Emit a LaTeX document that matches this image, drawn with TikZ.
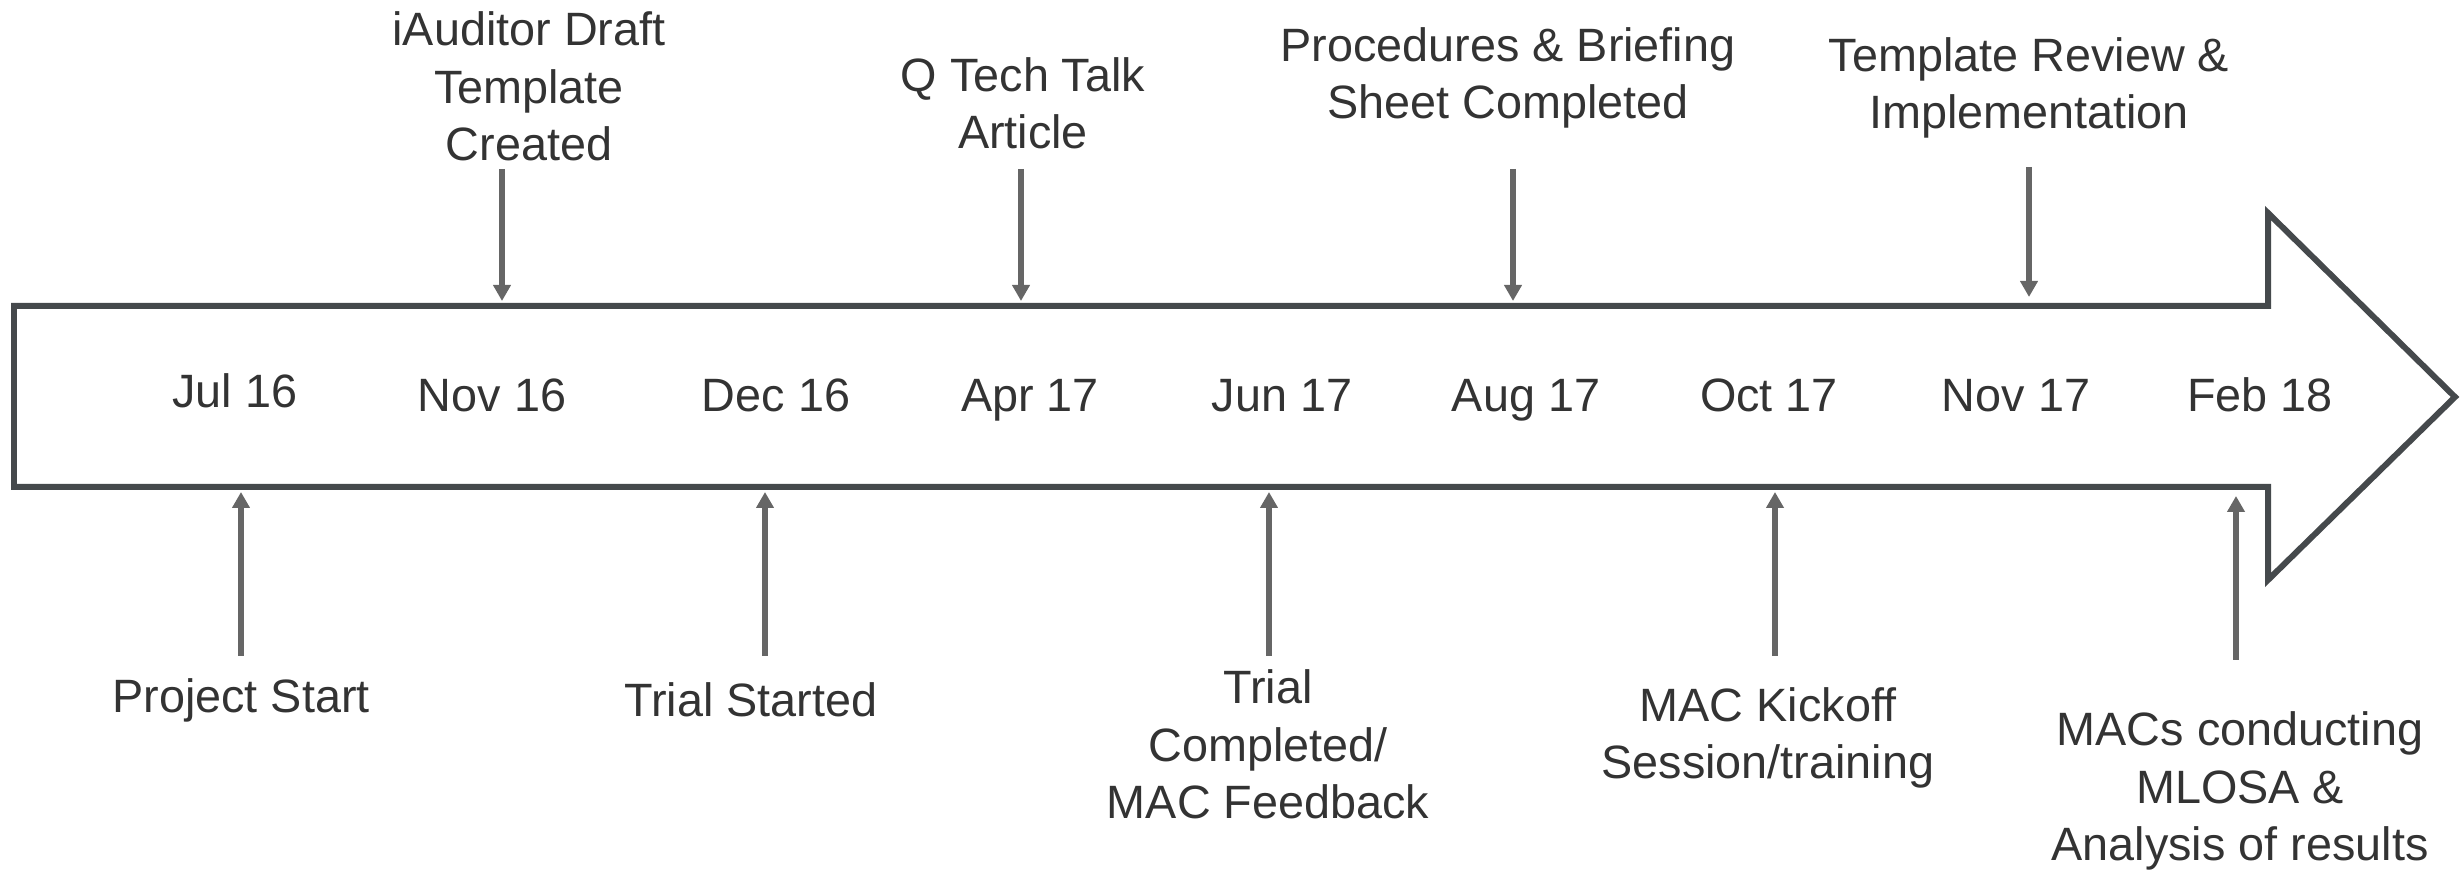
\documentclass[tikz,border=0pt]{standalone}
\usepackage{fontspec}
\setmainfont{Liberation Sans}
\usetikzlibrary{arrows.meta}
\definecolor{outl}{HTML}{45494C}
\definecolor{arr}{HTML}{666666}
\definecolor{txt}{HTML}{333333}
\begin{document}
\begin{tikzpicture}[x=0.01cm,y=-0.01cm,
  lbl/.style={inner sep=0pt,outer sep=0pt,align=center,text=txt,anchor=base,
    font=\fontsize{13.3}{16.4}\selectfont},
  date/.style={lbl},
  conn/.style={draw=arr,line width=1.8pt,-{Triangle[width=0.17cm,length=0.16cm]}}]
\useasboundingbox (0,0) rectangle (2463,871);
% big arrow
\draw[outl,line width=1.7pt,fill=white,line join=miter]
  (14,306) -- (2268,306) -- (2268,213) -- (2455,397) -- (2268,580) -- (2268,487) -- (14,487) -- cycle;
% dates
\node[date] (d1) at (235,408) {Jul 16};
\node[date] (d2) at (492,412) {Nov 16};
\node[date] (d3) at (776,412) {Dec 16};
\node[date] (d4) at (1030,412) {Apr 17};
\node[date] (d5) at (1282,412) {Jun 17};
\node[date] (d6) at (1526,412) {Aug 17};
\node[date] (d7) at (1769,412) {Oct 17};
\node[date] (d8) at (2016,412) {Nov 17};
\node[date] (d9) at (2260,412) {Feb 18};
% top labels (anchor = baseline of last line)
\node[lbl] (t1) at (529,161) {iAuditor Draft\\Template\\Created};
\node[lbl] (t2) at (1023,149) {Q Tech Talk\\Article};
\node[lbl] (t3) at (1508,119) {Procedures \& Briefing\\Sheet Completed};
\node[lbl] (t4) at (2029,129) {Template Review \&\\Implementation};
% bottom labels
\node[lbl] (b1) at (241,713) {Project Start};
\node[lbl] (b2) at (751,717) {Trial Started};
\node[lbl] (b3) at (1268,819) {Trial\\Completed/\\MAC Feedback};
\node[lbl] (b4) at (1768,779) {MAC Kickoff\\Session/training};
\node[lbl] (b5) at (2240,861) {MACs conducting\\MLOSA \&\\Analysis of results};
% connector ends
\coordinate (t1s) at (502,169); \coordinate (t1e) at (502,301);
\coordinate (t2s) at (1021,169); \coordinate (t2e) at (1021,301);
\coordinate (t3s) at (1513,169); \coordinate (t3e) at (1513,301);
\coordinate (t4s) at (2029,167); \coordinate (t4e) at (2029,297);
\coordinate (b1s) at (241,656); \coordinate (b1e) at (241,492);
\coordinate (b2s) at (765,656); \coordinate (b2e) at (765,492);
\coordinate (b3s) at (1269,656); \coordinate (b3e) at (1269,492);
\coordinate (b4s) at (1775,656); \coordinate (b4e) at (1775,492);
\coordinate (b5s) at (2236,660); \coordinate (b5e) at (2236,496);
\draw[conn] (t1s) -- (t1e);
\draw[conn] (t2s) -- (t2e);
\draw[conn] (t3s) -- (t3e);
\draw[conn] (t4s) -- (t4e);
\draw[conn] (b1s) -- (b1e);
\draw[conn] (b2s) -- (b2e);
\draw[conn] (b3s) -- (b3e);
\draw[conn] (b4s) -- (b4e);
\draw[conn] (b5s) -- (b5e);
\end{tikzpicture}
\end{document}
